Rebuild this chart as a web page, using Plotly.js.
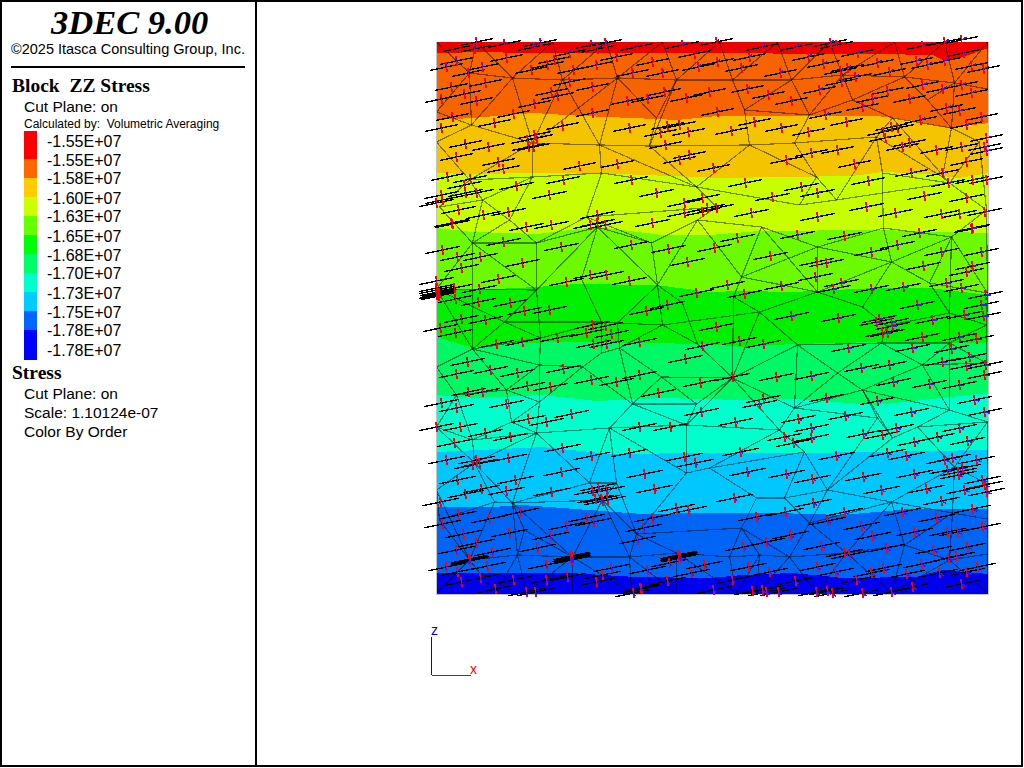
<!DOCTYPE html>
<html>
<head>
<meta charset="utf-8">
<script src="https://cdn.plot.ly/plotly-3.0.1.min.js"></script>
<style>
html,body{margin:0;padding:0;background:#fff;overflow:hidden}
#chart{width:1024px;height:768px}
.scatterlayer path{shape-rendering:crispEdges}
</style>
</head>
<body>
<div id="chart"></div>
<script>
// Model extent (x, z) of the cut plane
const modelWidth = 552;
const modelHeight = 552;

// Legend
const legendLabels = ['-1.55E+07','-1.55E+07','-1.58E+07','-1.60E+07','-1.63E+07','-1.65E+07','-1.68E+07','-1.70E+07','-1.73E+07','-1.75E+07','-1.78E+07','-1.78E+07'];
const legendColors = ['#ff0000','#ff6600','#ffcc00','#ccff00','#66ff00','#00ff00','#00ff66','#00ffcc','#00ccff','#0066ff','#0000ff'];
const legendEdges = [131,159,178,197,216,235,254,273,292,311,330,360];

// Shaded contour colours, top to bottom
const bandColors = ['#ee0000','#f56400','#f5c400','#c8ff00','#6cfa00','#00f000','#00f864','#00ffcc','#00c8ff','#0064f5','#0000f0'];

// Lower edge of each contour band (x, z)
const edgeRedOrange = [[0,541],[50,542],[83,541],[183,541],[300,541],[373,540],[440,540],[496,539],[506,534],[523,536],[552,546]];
const edgeOrangeAmber = [[0,474],[35,476],[97,481],[147,478],[220,475],[240,474],[281,478],[306,478],[373,478],[440,478],[473,474],[513,466],[552,471]];
const edgeAmberYellow = [[0,421],[33,420],[96,421],[183,420],[283,416],[340,417],[416,418],[446,422],[490,420],[523,416],[552,421]];
const edgeYellowLime = [[0,366],[36,362],[100,360],[160,367],[226,359],[273,359],[323,363],[440,364],[513,362],[552,361]];
const edgeLimeGreen = [[0,304],[40,304],[100,307],[140,310],[220,309],[273,302],[306,303],[356,302],[440,306],[493,306],[552,299]];
const edgeGreenSpring = [[0,257],[36,246],[73,251],[140,252],[223,251],[283,249],[306,247],[356,250],[440,252],[513,251],[552,251]];
const edgeSpringAqua = [[0,199],[40,196],[106,199],[160,193],[223,196],[273,195],[306,194],[356,195],[440,189],[486,194],[552,201]];
const edgeAquaSky = [[0,142],[40,144],[106,147],[173,140],[240,141],[273,141],[366,141],[440,142],[552,144]];
const edgeSkyBlue = [[0,87],[56,87],[86,89],[206,80],[273,81],[306,81],[340,81],[406,79],[473,85],[552,85]];
const edgeBlueDeep = [[0,21],[66,21],[133,21],[200,17],[273,16],[306,19],[356,21],[406,16],[480,17],[506,24],[552,20]];
const bandEdges = [edgeRedOrange,edgeOrangeAmber,edgeAmberYellow,edgeYellowLime,edgeLimeGreen,edgeGreenSpring,edgeSpringAqua,edgeAquaSky,edgeSkyBlue,edgeBlueDeep];

// Block mesh nodes (x, z)
const meshNodes = {
T0:[0,552],T1:[40,552],T2:[116,552],T3:[170,552],T4:[226,552],T5:[283,552],T6:[341,552],T7:[393,552],T8:[458,552],T9:[508,552],T10:[551,552],
A0:[33,521],A1:[76,516],A2:[126,514],A3:[181,516],A4:[240,514],A5:[296,514],A6:[355,514],A7:[406,519],A8:[468,517],A9:[518,511],A10:[551,505],
B0:[0,482],B1:[35,469],B3:[220,476],B4:[308,484],B5:[373,479],B6:[416,494],B7:[456,476],B8:[491,494],B9:[515,466],
C0:[0,452],C1:[96,451],C2:[163,449],C3:[213,448],C4:[313,449],C5:[358,451],C6:[440,457],C7:[543,452],
D0:[33,414],D1:[96,417],D2:[165,421],D3:[260,407],D4:[380,417],D5:[446,421],D6:[506,417],D7:[513,411],
E0:[3,387],E1:[46,394],E2:[150,377],E3:[280,387],E4:[363,389],E5:[400,394],E6:[446,401],E7:[550,384],E8:[73,374],
F0:[36,351],F1:[100,351],F2:[161,367],F3:[215,351],F4:[261,374],F5:[325,367],F6:[381,347],F7:[447,366],F8:[515,357],F9:[455,332],
G0:[0,305],G1:[100,304],G2:[145,315],G3:[221,309],G4:[305,317],G5:[381,302],G6:[493,311],G7:[551,301],G8:[297,297],
H0:[68,272],H1:[165,272],H2:[181,271],H3:[226,269],H4:[323,282],H5:[426,287],H6:[450,268],H7:[513,281],H8:[550,269],H9:[246,291],
I0:[36,245],I1:[104,256],I2:[165,241],I3:[183,246],I4:[261,250],I5:[361,249],I6:[445,251],I7:[513,251],
J0:[0,227],J1:[103,229],J2:[146,227],J3:[225,217],J4:[296,216],J5:[401,221],J6:[486,229],J7:[550,231],
K0:[20,199],K1:[70,204],K2:[103,192],K3:[196,190],K4:[358,186],K5:[426,204],K6:[513,184],K7:[260,190],
L0:[0,167],L1:[36,154],L2:[75,172],L3:[100,161],L4:[173,166],L5:[250,169],L6:[343,164],L7:[441,176],L8:[456,156],L9:[481,167],L10:[551,172],
M0:[38,131],M2:[153,111],M3:[180,111],M4:[250,121],M5:[273,126],M6:[368,142],M7:[518,127],
N0:[0,104],N1:[58,92],N2:[76,91],N3:[166,94],N4:[320,96],N5:[348,96],N6:[391,104],N7:[455,92],N8:[551,110],
O0:[3,74],O1:[88,64],O2:[200,60],O3:[305,66],O4:[373,71],O5:[516,81],O6:[551,75],
P0:[33,34],P1:[81,39],P2:[136,37],P3:[193,37],P4:[240,41],P5:[293,37],P6:[323,39],P7:[353,37],P8:[410,41],P9:[468,49],P10:[513,34],P11:[551,40],
Q0:[0,1],Q1:[59,1],Q2:[90,1],Q3:[136,1],Q4:[195,1],Q5:[240,1],Q6:[300,1],Q7:[320,1],Q8:[380,1],Q9:[455,1],Q10:[551,1]
};

// Block mesh edges
const meshEdges = `T1-A0 T0-A0 T1-A1 T2-A1 T2-A2 T3-A2 T3-A3 T4-A3 T4-A4 T5-A4 T5-A5 T6-A5 T6-A6 T7-A6 T7-A7 T8-A7 T8-A8 T9-A8 T9-A9 T10-A9 T10-A10
A0-A1 A1-A2 A2-A3 A3-A4 A4-A5 A5-A6 A6-A7 A7-A8 A8-A9 A9-A10 A0-B0 A0-B1 B0-B1 A1-B1 A1-C1 A2-C1 A3-C1 A3-C2 A2-C2 A3-B3 A4-B3
B1-C0 B1-C1 C0-D0 C1-D0 C1-D1 C1-C2 C2-C3 C3-B3 C2-D2 D1-D2 D0-D1 D0-E0 D0-E1 D1-E1 D1-E8 D2-E2 C2-D3 C3-D3 D3-E3 A4-C3
A5-B4 A6-B4 A6-B5 B4-B5 A7-B5 A7-B6 A8-B6 B5-B6 B6-B7 A8-B8 A9-B8 B8-B9 B7-B9 A9-B9 B4-C4 B5-C5 C4-C5 C5-D4 C4-D4 C3-C4 C4-D3 D3-E4 C5-C6 B7-C6 C6-E5 D4-E5 D4-E4 E4-E5 E5-E6 E6-D7 C6-D6 B7-D7 D6-B9 D6-D7 D7-C7 B9-C7 C7-E7 D7-E7 E6-D5 D5-C6 E3-F4 E2-E3 D5-D7 D3-D2
E0-E1 E1-E8 E8-F0 E1-F0 E0-F0 F0-F1 F1-F2 F2-F3 F3-F4 F1-E8 F2-E2 F1-E2 F3-E2 F1-G1 F0-G0 F0-G1 F0-I0 G0-G1 G1-F2 F2-G2 F3-G3 F2-G3 F4-G3 G3-H3 G3-H2 G3-H9 G2-H1 H1-H2 H2-H3 H0-G1 H0-G0 H0-I0 H0-H1 H0-I1 G1-I1 I1-H1 H1-I2 H2-I3 I2-I3 H3-I3 I0-I1 I1-J1 I0-J0 I0-J1 I0-K1 J1-K1 J0-K0 K0-K1 J1-J2 I2-J2 J1-K2 K1-K2 J2-K2 J2-K3 I3-K3 I3-J3 J3-K3 H3-I4 J3-K7 K3-K7 I4-J4 J3-J4 J4-K7 H9-I4 G0-I0
F4-F5 F5-G4 F5-F6 F6-G4 F5-G5 F6-G5 F6-F7 F7-F9 F7-F8 F8-F9 F6-F9 F9-G5 G4-G5 G4-G8 G8-H4 G5-H4 G8-J4 H4-I5 H4-H3 G5-H5 H5-F9 F9-G6 G6-F8 G6-H7 H5-H6 H6-H7 H6-I6 I6-I5 I5-J4 I5-J5 I5-K4 I6-J5 I6-J6 I6-I7 H7-I7 F8-H7 I7-K6 H7-H8 H8-I7 G7-G6 G7-F8 G7-H8 H8-J7 I7-J7 J6-I7 J6-K6 J6-J7 J5-K5 K5-J6 K5-K6 K4-K5 J4-K4 E7-F8 E7-G7 F7-E6 F4-G4 H4-J4
K0-L0 K1-L2 K2-L2 K2-L3 L2-L3 L1-L0 L1-L2 L1-L3 L3-L4 K3-L4 K3-L5 L4-L5 K0-L1 L0-M0 L1-M0 L3-M0 L4-M2 L4-M3 L3-M2 M2-M3 M2-N3 M3-N3 L5-M4 L4-M4 M0-N0 M0-N1 M0-N2 L3-N2 M2-N2 N1-N2 N2-N3 N0-O0 N1-O0 N1-P0 N2-P1 N3-O2 N3-P2 N3-P3 N2-P2 O0-P0 P0-P1 P1-P2 P2-P3 P3-P4 M4-O2 O2-P4 O2-P3 M3-O2 N0-P0 N2-O1 O1-P1 O1-P2
M4-M5 L5-L6 K4-L6 K4-L7 L6-M5 L6-M6 M5-M6 M5-N4 M6-N5 N4-N5 N5-N6 M6-N6 L7-N6 L8-N6 L7-L8 L8-L9 L9-M7 K5-L7 K5-L8 K6-L9 K6-L10 L9-L10 L10-N8 M7-L10 M7-N7 M7-O5 N7-O5 N6-N7 N7-O4 N6-O4 N5-O4 N4-O3 O3-P5 O3-P6 O3-P7 O4-P7 O4-P8 N7-P8 N7-P9 O5-P9 O5-P10 O5-O6 O6-P11 P10-P11 N8-O6 P5-P6 P6-P7 P7-P8 P8-P9 P9-P10 P4-P5 O2-O3 K7-L5 J4-L5 J4-L6 J5-K4 N8-M7
P0-Q0 P0-Q1 P1-Q1 P1-Q2 P2-Q2 P2-Q3 P2-Q4 P3-Q4 P3-Q5 P4-Q5 P4-Q6 P5-Q6 P6-Q6 P6-Q7 P7-Q7 P7-Q8 P8-Q8 P8-Q9 P9-Q9 P10-Q9 P10-Q10 P11-Q10`;

// Stress marker locations (x, z), upper part of the plane
const stressUpper = [[40,552],[23,546],[38,545],[68,550],[98,547],[104,551],[155,549],[169,551],[161,545],[200,547],[246,549],[280,552],[10,527],[20,533],[46,527],[70,536],[95,524],[111,529],[118,534],[133,541],[180,537],[160,529],[216,532],[258,540],[281,532],[32,521],[49,511],[15,507],[28,500],[133,512],[137,524],[196,521],[226,521],[262,527],[5,495],[40,493],[98,490],[115,502],[121,498],[156,507],[191,493],[211,495],[228,502],[250,496],[273,502],[16,477],[77,480],[58,471],[156,481],[281,482],[5,466],[126,468],[193,466],[231,468],[243,469],[224,461],[252,462],[29,450],[52,447],[98,459],[91,454],[100,456],[92,447],[97,447],[229,449],[20,437],[62,432],[67,425],[143,428],[181,430],[253,439],[243,434],[277,426],[11,417],[34,415],[127,414],[195,414],[28,409],[80,408],[5,399],[29,401],[40,401],[0,391],[6,394],[113,399],[220,401],[22,384],[47,379],[72,382],[161,379],[266,396],[248,391],[248,381],[266,382],[271,386],[280,386],[16,370],[90,367],[115,369],[154,369],[161,371],[169,369],[216,371],
[326,547],[360,547],[394,551],[400,549],[486,548],[508,552],[525,554],[313,537],[372,537],[421,541],[305,526],[387,530],[404,523],[411,526],[441,531],[453,522],[480,533],[491,529],[508,533],[527,541],[535,528],[547,525],[344,521],[405,512],[419,517],[486,509],[506,505],[525,509],[311,505],[332,499],[383,504],[451,503],[535,501],[355,493],[436,495],[473,495],[389,479],[426,487],[510,486],[523,483],[545,477],[318,472],[410,472],[484,474],[530,469],[295,463],[345,466],[372,462],[455,467],[461,466],[447,462],[449,456],[550,456],[473,451],[466,447],[375,441],[401,444],[500,444],[525,447],[548,447],[550,443],[350,434],[418,430],[530,432],[475,421],[506,421],[512,411],[309,411],[365,407],[432,413],[536,414],[550,414],[336,397],[381,401],[488,398],[530,396],[315,381],[381,377],[430,387],[459,381],[505,380],[523,380],[548,382],[536,366]];

// Stress marker locations (x, z), middle part of the plane
const stressMiddle = [[15,371],[6,344],[67,352],[125,347],[195,349],[232,345],[21,337],[44,337],[86,331],[25,326],[251,332],[0,313],[62,315],[130,312],[154,319],[170,319],[193,313],[0,304],[1,302],[1,300],[0,306],[2,298],[0,299],[3,301],[18,306],[43,305],[19,295],[42,292],[74,291],[88,283],[113,284],[260,301],[231,289],[210,283],[25,275],[4,266],[49,274],[19,261],[156,269],[169,268],[150,261],[175,260],[121,256],[60,250],[86,252],[157,250],[170,250],[203,252],[266,248],[249,235],[31,232],[20,220],[54,224],[81,221],[127,225],[203,219],[155,214],[180,212],[91,208],[114,207],[264,211],[32,202],[46,202],[222,201],[5,191],[70,190],[20,186],[135,180],[265,182],[92,175],
[301,356],[278,346],[361,359],[408,358],[483,361],[535,365],[461,349],[435,342],[505,342],[545,342],[334,338],[380,332],[390,331],[487,328],[536,328],[530,322],[379,317],[291,309],[345,308],[308,300],[397,305],[405,311],[435,305],[467,307],[510,311],[525,306],[549,299],[545,289],[481,289],[355,278],[402,276],[440,272],[443,275],[455,272],[456,268],[446,261],[451,261],[496,274],[528,279],[547,278],[280,267],[486,257],[523,257],[540,255],[303,253],[327,250],[412,246],[476,246],[515,245],[533,237],[506,232],[549,229],[530,228],[425,226],[453,229],[548,219],[296,217],[340,217],[375,218],[457,212],[493,210],[523,209],[390,196],[323,190],[327,195],[441,193],[538,194],[409,178],[475,182],[548,182]];

// Stress marker locations (x, z), lower part of the plane
const stressLower = [[0,167],[24,167],[49,161],[74,157],[110,172],[203,167],[234,167],[18,151],[126,146],[155,138],[193,141],[10,134],[72,136],[40,134],[36,129],[43,131],[248,137],[259,131],[125,122],[208,120],[21,114],[79,114],[162,107],[170,104],[156,103],[218,105],[29,100],[45,105],[70,103],[115,102],[159,95],[171,94],[165,95],[166,93],[4,92],[240,86],[252,84],[22,79],[84,82],[53,75],[150,76],[157,72],[216,76],[6,70],[130,68],[207,66],[27,60],[73,61],[114,58],[201,54],[40,51],[20,44],[56,42],[101,46],[135,38],[135,36],[135,34],[136,37],[136,35],[134,36],[33,34],[33,35],[33,33],[34,34],[242,39],[244,36],[242,37],[243,38],[243,36],[233,31],[110,29],[10,27],[51,28],[175,26],[211,24],[268,29],[21,22],[166,19],[131,17],[255,21],[25,12],[44,16],[77,14],[110,14],[160,12],[231,13],[204,6],[205,5],[59,5],[90,2],[99,2],[197,1],
[299,172],[362,175],[375,166],[348,157],[375,156],[357,151],[427,160],[446,159],[460,166],[523,166],[501,157],[478,152],[531,153],[304,142],[400,138],[451,141],[470,138],[508,134],[516,136],[540,134],[311,122],[350,120],[376,115],[427,117],[478,120],[511,124],[522,122],[526,126],[522,119],[546,114],[548,109],[445,104],[490,105],[528,104],[550,102],[298,96],[505,93],[377,91],[349,82],[408,82],[536,85],[466,82],[320,77],[391,73],[500,76],[425,68],[478,62],[546,67],[511,62],[521,62],[436,58],[354,59],[330,52],[307,47],[385,48],[450,46],[497,44],[531,47],[408,41],[413,39],[512,36],[520,38],[312,27],[381,27],[333,22],[399,22],[447,26],[485,30],[503,21],[530,22],[541,27],[470,20],[435,21],[296,14],[359,13],[420,14],[476,7],[525,10],[316,3],[326,4],[330,2],[342,2],[380,2],[391,3],[396,1],[426,1],[455,2],[277,4]];

const stressPoints = stressUpper.concat(stressMiddle, stressLower);

// Principal stress glyph (plot scale) and projection of the out-of-plane component
const majorSlope = 0.205;
const minorHalf = 4.8;
const minorLean = 0.12;
const viewCentre = [60, 290];
const viewGain = 0.0105;

function segments(build){
  const xs = [], ys = [];
  stressPoints.forEach(p => {
    const s = build(p[0], p[1]);
    xs.push(s[0], s[2], null);
    ys.push(s[1], s[3], null);
  });
  return {x: xs, y: ys};
}

const traces = [];

// Contour bands painted top to bottom, each reaching the base of the plane
traces.push({x:[0,modelWidth,modelWidth,0,0], y:[modelHeight,modelHeight,0,0,modelHeight], mode:'lines', fill:'toself', fillcolor:bandColors[0], line:{width:0}, hoverinfo:'skip'});
bandEdges.forEach((edge,i) => {
  const xs = edge.map(p => p[0]).concat([modelWidth,0,edge[0][0]]);
  const ys = edge.map(p => p[1]).concat([0,0,edge[0][1]]);
  traces.push({x:xs, y:ys, mode:'lines', fill:'toself', fillcolor:bandColors[i+1], line:{width:0}, hoverinfo:'skip'});
});

// Mesh
const mx = [], mz = [];
meshEdges.trim().split(/\s+/).forEach(e => {
  const [a,b] = e.split('-');
  mx.push(meshNodes[a][0], meshNodes[b][0], null);
  mz.push(meshNodes[a][1], meshNodes[b][1], null);
});
traces.push({x:mx, y:mz, mode:'lines', line:{color:'rgba(0,0,0,0.45)', width:1.2}, hoverinfo:'skip'});

// Plane outline
traces.push({x:[0,0,modelWidth,modelWidth], y:[modelHeight,0,0,modelHeight], mode:'lines', line:{color:'#c4c4c4', width:1}, hoverinfo:'skip'});

// Stress glyphs
const major = segments((x,z) => {
  const half = 16.5 + 2*(1 - z/modelHeight);
  return [x-half, z-half*majorSlope, x+half, z+half*majorSlope];
});
traces.push({x:major.x, y:major.y, mode:'lines', line:{color:'#000000', width:1.4}, hoverinfo:'skip'});
const minor = segments((x,z) => [x-minorHalf*minorLean, z+minorHalf, x+minorHalf*minorLean, z-minorHalf]);
traces.push({x:minor.x, y:minor.y, mode:'lines', line:{color:'#ff0000', width:1.5}, hoverinfo:'skip'});
const mid = segments((x,z) => [x, z, x+(x-viewCentre[0])*viewGain, z+(z-viewCentre[1])*viewGain]);
traces.push({x:mid.x, y:mid.y, mode:'lines', line:{color:'#3c14ff', width:1.5}, hoverinfo:'skip'});

// Axis triad
traces.push({x:[-5,-5], y:[-81,-43], mode:'lines', line:{color:'#0000ff', width:1}, hoverinfo:'skip'});
traces.push({x:[-5,34], y:[-81,-81], mode:'lines', line:{color:'#e00000', width:1}, hoverinfo:'skip'});

// Page geometry helpers for the text panel
const PW = 1024, PH = 768;
const fx = px => px/PW;
const fy = py => 1 - py/PH;

function label(text, x, y, size, family, extra){
  return Object.assign({text:text, xref:'paper', yref:'paper', x:fx(x), y:fy(y), xanchor:'left', yanchor:'middle', showarrow:false, align:'left', borderpad:0,
    font:{size:size, family:family, color:'#000'}}, extra||{});
}
const SANS = 'Liberation Sans, Arial, sans-serif';
const SERIF = 'Liberation Serif, Times New Roman, serif';

const annotations = [
  label('<b><i>3DEC 9.00</i></b>', 49, 22, 34.5, SERIF),
  label('\u00a92025 Itasca Consulting Group, Inc.', 10, 49, 14.5, SANS),
  label('<b>Block\u00a0 ZZ Stress</b>', 11, 86, 19.5, SERIF),
  label('Cut Plane: on', 23, 106, 15.5, SANS),
  label('Calculated by:\u00a0 Volumetric Averaging', 23, 124, 12, SANS),
  label('<b>Stress</b>', 11, 372, 19.5, SERIF),
  label('Cut Plane: on', 23, 393, 15.5, SANS),
  label('Scale: 1.10124e-07', 23, 412, 15.5, SANS),
  label('Color By Order', 23, 431, 15.5, SANS),
  label('z', 430, 630, 14, SANS, {font:{size:14, family:SANS, color:'#0000ff'}}),
  label('x', 469, 669, 14, SANS, {font:{size:14, family:SANS, color:'#ff0000'}})
];
legendLabels.forEach((t,i) => annotations.push(label(t, 46, 141+19*i, 16, SANS)));

const shapes = [];
function rect(x0,y0,x1,y1,color){
  shapes.push({type:'rect', xref:'paper', yref:'paper', x0:fx(x0), x1:fx(x1), y0:fy(y0), y1:fy(y1), fillcolor:color, line:{width:0}, layer:'above'});
}
legendColors.forEach((c,i) => rect(24, legendEdges[i], 37, legendEdges[i+1], c));
rect(0,0,1023,2,'#000');
rect(0,765,1023,767,'#000');
rect(0,0,2,767,'#000');
rect(1021,0,1023,767,'#000');
rect(255,0,257,767,'#000');
rect(11,66,245,68,'#000');

const layout = {
  width: PW, height: PH,
  margin: {l:0, r:0, t:0, b:0, pad:0},
  paper_bgcolor: '#ffffff', plot_bgcolor: '#ffffff',
  showlegend: false, hovermode: false, dragmode: false,
  // 1 model unit spans 1 px; plane's lower left corner sits at (437, 594)
  xaxis: {range:[-436.5, 587.5], visible:false, fixedrange:true},
  yaxis: {range:[-174, 594], visible:false, fixedrange:true},
  annotations: annotations,
  shapes: shapes
};

Plotly.newPlot('chart', traces, layout, {displayModeBar:false, staticPlot:true, responsive:false});
</script>
</body>
</html>
